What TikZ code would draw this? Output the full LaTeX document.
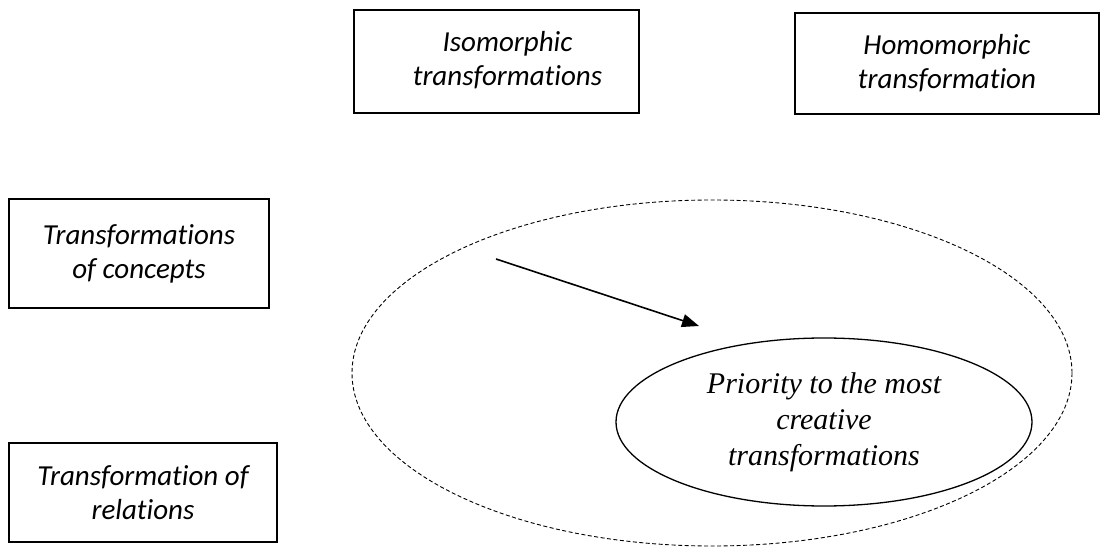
\documentclass[tikz,border=0pt]{standalone}
\usepackage{fontspec}
\setmainfont{Liberation Serif}
\setsansfont{Carlito}[Ligatures=NoCommon]
\usetikzlibrary{arrows.meta,shapes.geometric}
\begin{document}
\begin{tikzpicture}[x=1pt,y=-1pt,
  labelbox/.style={draw, line width=1.4pt, inner sep=0pt, align=center,
    font=\sffamily\itshape\fontsize{29}{34}\selectfont},
  focus/.style={draw, ellipse, line width=1.3pt, inner sep=0pt, align=center,
    font=\rmfamily\itshape\fontsize{30}{36}\selectfont},
  region/.style={draw, line width=0.9pt, dash pattern=on 4pt off 2.5pt},
  flow/.style={line width=1.6pt, -{Triangle[length=17pt,width=13pt]}}]
\useasboundingbox (0,0) rectangle (1101,548);

% category boxes (the first one has its text set a little right of centre)
\node[labelbox, minimum width=285pt, minimum height=103pt] (iso) at (496.5,61.5)
  {\hspace*{22pt}\begin{tabular}{@{}c@{}}Isomorphic\\transformations\end{tabular}};
\node[labelbox, minimum width=304pt, minimum height=101pt] (homo) at (947,63.5)
  {Homomorphic\\transformation};
\node[labelbox, minimum width=260pt, minimum height=109pt] (concepts) at (139,253.5)
  {Transformations\\of concepts};
\node[labelbox, minimum width=268pt, minimum height=99pt] (relations) at (143,492.5)
  {Transformation of\\relations};

% dashed region and the focus inside it
\draw[region] (712,373) ellipse [x radius=360, y radius=173];
\node[focus, minimum width=416pt, minimum height=168pt] (prio) at (824,422)
  {Priority to the most\\creative\\transformations};

% arrow pointing towards the focus
\coordinate (from) at (496,259);
\coordinate (to) at (699,326);
\draw[flow] (from) -- (to);
\end{tikzpicture}
\end{document}
